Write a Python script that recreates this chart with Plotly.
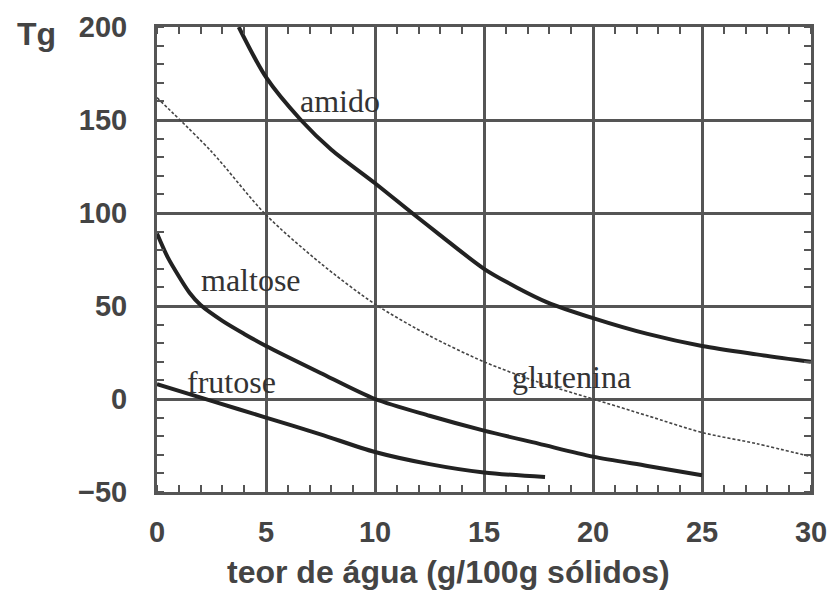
import plotly.graph_objects as go

# Data
amido_x = [3.75, 5, 6.6, 8, 10, 11.7, 13, 15, 16.5, 17.9, 20, 22.5, 25, 27.5, 30]
amido_y = [200, 173, 150, 134, 116, 100, 88, 70, 60, 52, 43.5, 35, 28.5, 24, 20]

glut_x = [0, 2.5, 5, 7.5, 10, 12.5, 15, 17.5, 20, 22.5, 25, 27.5, 30]
glut_y = [162, 133, 99, 73, 51, 34, 20, 9, 0, -9, -18, -24, -31]

malt_x = [0, 0.5, 1, 1.5, 2, 3, 4, 5, 7.5, 10, 12.5, 15, 17.5, 20, 22.5, 25]
malt_y = [89, 76, 66, 57, 50.5, 42, 35, 28.5, 14, 0, -9, -17, -24, -31, -36, -41]

frut_x = [0, 2.5, 5, 7.5, 10, 12.5, 15, 17.8]
frut_y = [8, -1, -10, -19, -28.5, -35, -39.5, -42]

labels = ["amido", "maltose", "frutose", "glutenina"]
label_x = [8.4, 4.3, 3.4, 19.0]
label_y = [160, 64, 9, 12]

x_range = [0, 30]
y_range = [-50, 200]
x_major, x_minor = 5, 1
y_major, y_minor = 50, 10

x_title = "teor de água (g/100g sólidos)"
y_title = "Tg"

line_col = "#222222"
grid_col = "#555"
text_col = "#444444"

fig = go.Figure()
for xs, ys in [(amido_x, amido_y), (malt_x, malt_y), (frut_x, frut_y)]:
    fig.add_trace(go.Scatter(x=xs, y=ys, mode="lines",
                             line=dict(color=line_col, width=4, shape="spline", smoothing=0.8),
                             showlegend=False, hoverinfo="skip"))
fig.add_trace(go.Scatter(x=glut_x, y=glut_y, mode="lines",
                         line=dict(color="#444444", width=1.6, dash="3px,2px", shape="spline", smoothing=0.8),
                         showlegend=False, hoverinfo="skip"))

for t, lx, ly in zip(labels, label_x, label_y):
    fig.add_annotation(x=lx, y=ly, text=t, showarrow=False,
                       font=dict(family="Liberation Serif", size=32, color="#333333"))

fig.add_annotation(xref="paper", yref="paper", x=-0.184, y=0.985, text="<b>" + y_title + "</b>",
                   showarrow=False, font=dict(family="Liberation Sans", size=32, color=text_col),
                   xanchor="center", yanchor="middle")
fig.add_annotation(xref="paper", yref="paper", x=0.446, y=-0.172, text="<b>" + x_title + "</b>",
                   showarrow=False, font=dict(family="Liberation Sans", size=32, color=text_col),
                   xanchor="center", yanchor="middle")

axis_common = dict(showline=True, linecolor=grid_col, linewidth=3, mirror="allticks",
                   showgrid=True, gridcolor=grid_col, gridwidth=2.5, zeroline=False,
                   automargin=False,
                   ticks="outside", tickwidth=1, tickcolor="rgba(0,0,0,0)",
                   tickfont=dict(family="Liberation Sans", size=29, color=text_col, weight="bold"))

fig.update_layout(
    width=828, height=599, margin=dict(l=157, r=17, t=27, b=107),
    plot_bgcolor="white", paper_bgcolor="white",
    xaxis=dict(range=x_range, dtick=x_major, ticklen=12,
               minor=dict(ticks="inside", ticklen=7, tickwidth=2, tickcolor=grid_col, dtick=x_minor),
               **axis_common),
    yaxis=dict(range=y_range, dtick=y_major, ticklen=21,
               minor=dict(ticks="inside", ticklen=7, tickwidth=2, tickcolor=grid_col, dtick=y_minor),
               **axis_common),
)

fig.write_html("out.html")
